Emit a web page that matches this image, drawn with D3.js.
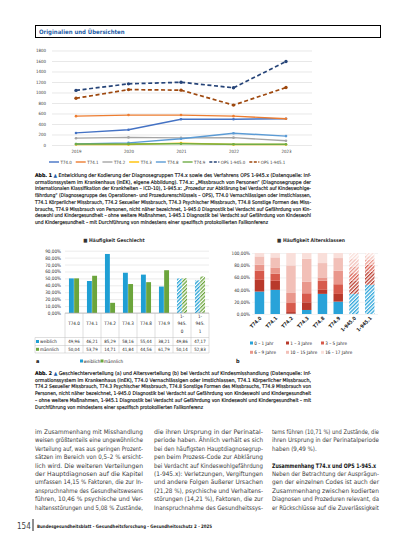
<!DOCTYPE html>
<meta charset="utf-8">
<title>Kodierung T74.x und OPS 1-945.x</title>
<style>
    body { margin: 0; background: #fff; }
    svg { display: block; }
</style>
<body>
<script src="https://cdn.jsdelivr.net/npm/d3@7"></script>
<script>
    // Abb. 1 - Fallzahlen je Jahr
    var years = ["2019", "2020", "2021", "2022", "2023"];
    var lineNames = ["T74.0", "T74.1", "T74.2", "T74.3", "T74.8", "T74.9", "OPS 1-945.0", "OPS 1-945.1"];
    var lineColors = ["#4472c4", "#ed7d31", "#a5a5a5", "#ffc000", "#5b9bd5", "#70ad47", "#264478", "#9e480e"];
    var t740 = [230, 290, 490, 490, 500];
    var t741 = [550, 570, 570, 550, 500];
    var t742 = [130, 145, 135, 140, 80];
    var t743 = [10, 10, 35, 10, 10];
    var t748 = [20, 40, 120, 225, 170];
    var t749 = [20, 20, 25, 15, 15];
    var ops0 = [1040, 1165, 1195, 1090, 1590];
    var ops1 = [890, 1055, 1045, 760, 1095];
    var lineValues = [t740, t741, t742, t743, t748, t749, ops0, ops1];

    // Abb. 2a - Geschlecht (%)
    var cats = ["T74.0", "T74.1", "T74.2", "T74.3", "T74.8", "T74.9", "1-945.0", "1-945.1"];
    var sexes = ["weiblich", "männlich"];
    var sexColors = ["#1f9fd4", "#6ca53c"];
    var weiblich = [49.96, 46.21, 85.29, 58.16, 55.44, 38.21, 49.86, 47.17];
    var maennlich = [50.04, 53.79, 14.71, 41.84, 44.56, 61.79, 50.14, 52.83];

    // Abb. 2b - Altersklassen (%)
    var ageClasses = ["0 – 1 Jahr", "1 – 3 Jahre", "3 – 5 Jahre", "6 – 9 Jahre", "10 – 15 Jahre", "16 – 17 Jahre"];
    var ageColors = ["#29a3d9", "#b8392b", "#d75a4c", "#e9978c", "#f2c0b8", "#f9dfda"];
    var age0_1 = [36.8, 39.6, 0.5, 6.6, 33.0, 20.3, 33.0, 47.8];
    var age1_3 = [19.2, 14.8, 2.7, 12.6, 6.6, 12.6, 22.0, 22.0];
    var age3_5 = [14.8, 11.5, 14.8, 14.8, 14.8, 15.9, 12.0, 11.0];
    var age6_9 = [9.9, 10.4, 16.5, 19.2, 5.5, 22.0, 11.0, 8.0];
    var age10_15 = [13.7, 16.5, 45.2, 37.4, 23.6, 20.9, 12.0, 6.0];
    var age16_17 = [5.6, 7.2, 20.3, 9.4, 16.5, 8.3, 10.0, 5.2];
    var ageValues = [age0_1, age1_3, age3_5, age6_9, age10_15, age16_17];

    var FONT = '"DejaVu Sans Condensed", "Liberation Sans Narrow", "Liberation Sans", sans-serif';
    var de = d3.formatLocale({decimal: ",", thousands: ".", grouping: [3], currency: ["", " €"]});
    var pct = function(d) { return de.format(".2f")(d) + "%"; };

    var svg = d3.select("body").append("svg")
        .attr("width", 413)
        .attr("height", 550)
        .attr("font-family", FONT);

    // hatch patterns for the OPS bars
    var defs = svg.append("defs");
    function hatch(id, color) {
        var p = defs.append("pattern")
            .attr("id", id)
            .attr("patternUnits", "userSpaceOnUse")
            .attr("width", 2.6).attr("height", 2.6)
            .attr("patternTransform", "rotate(45)");
        p.append("rect").attr("width", 2.6).attr("height", 2.6).attr("fill", "#fff");
        p.append("rect").attr("width", 1.3).attr("height", 2.6).attr("fill", color);
        return "url(#" + id + ")";
    }

    function addText(x, y, str, opt) {
        opt = opt || {};
        var t = svg.append("text")
            .attr("x", x).attr("y", y)
            .attr("font-size", opt.size || 5.3)
            .attr("fill", opt.color || "#222")
            .attr("font-weight", opt.weight || "normal")
            .attr("text-anchor", opt.anchor || "start")
            .text(str);
        if (opt.width) t.attr("textLength", opt.width).attr("lengthAdjust", "spacingAndGlyphs");
        return t;
    }

    // ---------- header ----------
    svg.append("rect")
        .attr("x", 35.5).attr("y", 25.5).attr("width", 345).attr("height", 12)
        .attr("fill", "none").attr("stroke", "#000").attr("stroke-width", 1);
    addText(39, 33.8, "Originalien und Übersichten", {size: 6, weight: "bold", color: "#1f5ea8"});

    // ---------- Abb. 1 line chart ----------
    var xL = d3.scalePoint().domain(years).range([76, 286]);
    var yL = d3.scaleLinear().domain([0, 1800]).range([145, 50.5]);

    var gL = svg.append("g");
    gL.append("g")
        .attr("transform", "translate(52,0)")
        .call(d3.axisLeft(yL).tickValues(d3.range(0, 1801, 200)).tickSize(-260).tickPadding(6).tickFormat(d3.format("d")))
        .attr("font-family", FONT).attr("font-size", 4.4)
        .call(function(g) { g.select(".domain").remove(); })
        .call(function(g) { g.selectAll("line").attr("stroke", "#d9d9d9").attr("stroke-width", 0.6); })
        .call(function(g) { g.selectAll("text").attr("fill", "#404040"); });

    gL.append("g")
        .attr("transform", "translate(0,145)")
        .call(d3.axisBottom(xL).tickSize(0).tickPadding(4.5))
        .attr("font-family", FONT).attr("font-size", 4.4)
        .call(function(g) { g.select(".domain").remove(); })
        .call(function(g) { g.selectAll("text").attr("fill", "#404040"); });

    var line = d3.line()
        .x(function(d, i) { return xL(years[i]); })
        .y(function(d) { return yL(d); });

    lineValues.forEach(function(vals, k) {
        var dashed = lineNames[k].indexOf("OPS") === 0;
        gL.append("path")
            .attr("d", line(vals))
            .attr("fill", "none")
            .attr("stroke", lineColors[k])
            .attr("stroke-width", dashed ? 1.7 : 1.4)
            .attr("stroke-dasharray", dashed ? "4,2.6" : null);
        gL.append("g").selectAll("circle")
            .data(vals)
            .enter().append("circle")
            .attr("cx", function(d, i) { return xL(years[i]); })
            .attr("cy", function(d) { return yL(d); })
            .attr("r", dashed ? 1.7 : 1.3)
            .attr("fill", lineColors[k]);
    });

    // legend
    var lx = 49;
    lineNames.forEach(function(name, k) {
        gL.append("line")
            .attr("x1", lx).attr("x2", lx + 10).attr("y1", 162).attr("y2", 162)
            .attr("stroke", lineColors[k]).attr("stroke-width", 1.4)
            .attr("stroke-dasharray", name.indexOf("OPS") === 0 ? "3,1.5" : null);
        var t = gL.append("text")
            .attr("x", lx + 11.5).attr("y", 163.6)
            .attr("font-size", 4.4).attr("fill", "#404040")
            .text(name);
        lx += 11.5 + t.node().getComputedTextLength() + 4;
    });

    // ---------- Abb. 2a grouped bars with data table ----------
    var xA = d3.scaleBand().domain(cats).range([65, 209]).paddingInner(0.44).paddingOuter(0.22);
    var xSex = d3.scaleBand().domain(sexes).range([0, xA.bandwidth()]).paddingInner(0.06);
    var yA = d3.scaleLinear().domain([0, 90]).range([313, 250.7]);

    addText(114, 241.5, "■ Häufigkeit Geschlecht", {size: 5, weight: "bold", anchor: "middle", color: "#333"});

    var gA = svg.append("g");
    gA.append("g")
        .attr("transform", "translate(65,0)")
        .call(d3.axisLeft(yA).tickValues(d3.range(0, 91, 10)).tickSize(-144).tickPadding(4).tickFormat(pct))
        .attr("font-family", FONT).attr("font-size", 4.6)
        .call(function(g) { g.select(".domain").remove(); })
        .call(function(g) { g.selectAll("line").attr("stroke", "#d9d9d9").attr("stroke-width", 0.5); })
        .call(function(g) { g.selectAll("text").attr("fill", "#333"); });

    var sexData = [weiblich, maennlich];
    var hatchA = [hatch("hw", sexColors[0]), hatch("hm", sexColors[1])];
    sexData.forEach(function(vals, s) {
        gA.append("g").selectAll("rect")
            .data(vals)
            .enter().append("rect")
            .attr("x", function(d, i) { return xA(cats[i]) + xSex(sexes[s]); })
            .attr("width", xSex.bandwidth())
            .attr("y", function(d) { return yA(d); })
            .attr("height", function(d) { return yA(0) - yA(d); })
            .attr("fill", function(d, i) { return cats[i].indexOf("1-") === 0 ? hatchA[s] : sexColors[s]; });
    });

    // data table
    var tableStroke = "#bfbfbf";
    var rowTop = [313, 337.5, 345.5, 353];
    gA.append("line").attr("x1", 65).attr("x2", 209).attr("y1", 313).attr("y2", 313)
        .attr("stroke", "#a6a6a6").attr("stroke-width", 0.6);
    rowTop.slice(1).forEach(function(y) {
        gA.append("line").attr("x1", 35).attr("x2", 209).attr("y1", y).attr("y2", y)
            .attr("stroke", tableStroke).attr("stroke-width", 0.5);
    });
    d3.range(cats.length + 1).forEach(function(i) {
        var x = i < cats.length ? xA(cats[i]) - xA.step() * 0.22 : 209;
        gA.append("line").attr("x1", x).attr("x2", x).attr("y1", 313).attr("y2", 353)
            .attr("stroke", tableStroke).attr("stroke-width", 0.5);
    });
    gA.append("line").attr("x1", 35).attr("x2", 35).attr("y1", 337.5).attr("y2", 353)
        .attr("stroke", tableStroke).attr("stroke-width", 0.5);

    cats.forEach(function(c, i) {
        var cx = xA(c) + xA.bandwidth() / 2;
        var parts = c.length > 5 ? [c.slice(0, 2), c.slice(2, 6), c.slice(6)] : [c];
        var t = gA.append("text")
            .attr("text-anchor", "middle").attr("font-size", 4.6).attr("fill", "#222");
        parts.forEach(function(p, j) {
            t.append("tspan").attr("x", cx)
                .attr("y", parts.length > 1 ? 317.5 + j * 7.6 : 325)
                .text(p);
        });
        sexData.forEach(function(vals, s) {
            gA.append("text")
                .attr("x", cx).attr("y", 343.4 + s * 7.8)
                .attr("text-anchor", "middle").attr("font-size", 4.4).attr("fill", "#222")
                .text(de.format(".2f")(vals[i]));
        });
    });
    sexes.forEach(function(s, k) {
        gA.append("rect").attr("x", 36).attr("y", 340 + k * 7.8).attr("width", 3).attr("height", 3).attr("fill", sexColors[k]);
        gA.append("text").attr("x", 40).attr("y", 343.4 + k * 7.8)
            .attr("font-size", 4.6).attr("fill", "#222").text(s);
    });

    // legend a
    var legA = [80, 100.5];
    sexes.forEach(function(s, k) {
        gA.append("rect").attr("x", legA[k]).attr("y", 359.5).attr("width", 3).attr("height", 3).attr("fill", sexColors[k]);
        gA.append("text").attr("x", legA[k] + 3.6).attr("y", 362.8)
            .attr("font-size", 4.6).attr("fill", "#222").text(s);
    });
    addText(36, 363, "a", {size: 5.5, weight: "bold", color: "#111"});

    // ---------- Abb. 2b stacked bars ----------
    var xB = d3.scaleBand().domain(cats).range([251.6, 377.6]).paddingInner(0.4).paddingOuter(0.2);
    var yB = d3.scaleLinear().domain([0, 100]).range([314, 253]);

    addText(311, 241.5, "■ Häufigkeit Altersklassen", {size: 5, weight: "bold", anchor: "middle", color: "#333"});

    var gB = svg.append("g");
    gB.append("g")
        .attr("transform", "translate(252,0)")
        .call(d3.axisLeft(yB).tickValues(d3.range(0, 101, 20)).tickSize(-126).tickPadding(2).tickFormat(pct))
        .attr("font-family", FONT).attr("font-size", 4.6)
        .call(function(g) { g.select(".domain").remove(); })
        .call(function(g) { g.selectAll("line").attr("stroke", "#e4e4e4").attr("stroke-width", 0.5); })
        .call(function(g) { g.selectAll("text").attr("fill", "#333"); });

    var ageRows = cats.map(function(c, i) {
        var row = {cat: c};
        ageClasses.forEach(function(a, k) { row[a] = ageValues[k][i]; });
        return row;
    });
    var stack = d3.stack().keys(ageClasses)(ageRows);
    var hatchB = ageColors.map(function(c, k) { return hatch("ha" + k, c); });

    gB.append("g").selectAll("g")
        .data(stack)
        .enter().append("g")
        .each(function(layer, k) {
            d3.select(this).selectAll("rect")
                .data(layer)
                .enter().append("rect")
                .attr("x", function(d) { return xB(d.data.cat); })
                .attr("width", xB.bandwidth())
                .attr("y", function(d) { return yB(d[1]); })
                .attr("height", function(d) { return yB(d[0]) - yB(d[1]); })
                .attr("fill", function(d) { return d.data.cat.indexOf("1-") === 0 ? hatchB[k] : ageColors[k]; });
        });

    gB.append("g").selectAll("text")
        .data(cats)
        .enter().append("text")
        .attr("transform", function(d) { return "translate(" + (xB(d) + xB.bandwidth() / 2 + 2.5) + ",318.5) rotate(-45)"; })
        .attr("text-anchor", "end")
        .attr("font-size", 5)
        .attr("font-weight", "bold")
        .attr("fill", "#222")
        .text(function(d) { return d; });

    // legend b
    var legBx = [250, 286, 321];
    ageClasses.forEach(function(a, k) {
        var lx2 = legBx[k % 3], ly = 344.5 + Math.floor(k / 3) * 9.3;
        gB.append("rect").attr("x", lx2).attr("y", ly - 3).attr("width", 3).attr("height", 3).attr("fill", ageColors[k]);
        gB.append("text").attr("x", lx2 + 4.2).attr("y", ly)
            .attr("font-size", 4.6).attr("fill", "#222").text(a);
    });
    addText(236, 363, "b", {size: 5.5, weight: "bold", color: "#111"});

    // ---------- captions ----------
    var cap1 = [
        "Entwicklung der Kodierung der Diagnosegruppen T74.x sowie des Verfahrens OPS 1-945.x (Datenquelle: Inf-",
        "ormationssystem im Krankenhaus (InEK), eigene Abbildung). T74.x: „Missbrauch von Personen“ (Diagnosegruppe der",
        "Internationalen Klassifikation der Krankheiten – ICD-10), 1-945.x: „Prozedur zur Abklärung bei Verdacht auf Kindeswohlge-",
        "fährdung“ (Diagnosegruppe des Operationen- und Prozedurenschlüssels – OPS), T74.0 Vernachlässigen oder Imstichlassen,",
        "T74.1 Körperlicher Missbrauch, T74.2 Sexueller Missbrauch, T74.3 Psychischer Missbrauch, T74.8 Sonstige Formen des Miss-",
        "brauchs, T74.9 Missbrauch von Personen, nicht näher bezeichnet, 1-945.0 Diagnostik bei Verdacht auf Gefährdung von Kin-",
        "deswohl und Kindergesundheit – ohne weitere Maßnahmen, 1-945.1 Diagnostik bei Verdacht auf Gefährdung von Kindeswohl",
        "und Kindergesundheit – mit Durchführung von mindestens einer spezifisch protokollierten Fallkonferenz"
    ];
    var cap2 = [
        "Geschlechterverteilung (a) und Altersverteilung (b) bei Verdacht auf Kindesmisshandlung (Datenquelle: Inf-",
        "ormationssystem im Krankenhaus (InEK), T74.0 Vernachlässigen oder Imstichlassen, T74.1 Körperlicher Missbrauch,",
        "T74.2 Sexueller Missbrauch, T74.3 Psychischer Missbrauch, T74.8 Sonstige Formen des Missbrauchs, T74.9 Missbrauch von",
        "Personen, nicht näher bezeichnet, 1-945.0 Diagnostik bei Verdacht auf Gefährdung von Kindeswohl und Kindergesundheit",
        "– ohne weitere Maßnahmen, 1-945.1 Diagnostik bei Verdacht auf Gefährdung von Kindeswohl und Kindergesundheit – mit",
        "Durchführung von mindestens einer spezifisch protokollierten Fallkonferenz"
    ];

    function caption(lines, label, y0, lastWidth) {
        lines.forEach(function(l, i) {
            var t = svg.append("text")
                .attr("x", 35).attr("y", y0 + i * 6.7)
                .attr("font-size", 5.2).attr("fill", "#000")
                .attr("stroke", "#000").attr("stroke-width", 0.12)
                .attr("textLength", i === lines.length - 1 ? lastWidth : 276)
                .attr("lengthAdjust", "spacingAndGlyphs");
            if (i === 0) {
                t.append("tspan").attr("font-weight", "bold").text(label + " ");
                t.append("tspan").attr("fill", "#1f5ea8").attr("stroke", "none").text("▲ ");
            }
            t.append("tspan").text(l);
        });
    }
    caption(cap1, "Abb. 1", 177, 233);
    caption(cap2, "Abb. 2", 375, 168);

    // ---------- body text ----------
    var col1 = [
        "im Zusammenhang mit Misshandlung",
        "weisen größtenteils eine ungewöhnliche",
        "Verteilung auf, was aus geringen Prozent-",
        "sätzen im Bereich von 0,5–2 % ersicht-",
        "lich wird. Die weiteren Verteilungen",
        "der Hauptdiagnosen auf die Kapitel",
        "umfassen 14,15 % Faktoren, die zur In-",
        "anspruchnahme des Gesundheitswesens",
        "führen, 10,46 % psychische und Ver-",
        "haltensstörungen und 5,08 % Zustände,"
    ];
    var col2 = [
        "die ihren Ursprung in der Perinatal-",
        "periode haben. Ähnlich verhält es sich",
        "bei den häufigsten Hauptdiagnosegrup-",
        "pen beim Prozess-Code zur Abklärung",
        "bei Verdacht auf Kindeswohlgefährdung",
        "(1-945.x): Verletzungen, Vergiftungen",
        "und andere Folgen äußerer Ursachen",
        "(21,28 %), psychische und Verhaltens-",
        "störungen (14,21 %), Faktoren, die zur",
        "Inanspruchnahme des Gesundheitssys-"
    ];
    var col3 = [
        "tems führen (10,71 %) und Zustände, die",
        "ihren Ursprung in der Perinatalperiode",
        "haben (9,49 %).",
        "",
        "Zusammenhang T74.x und OPS 1-945.x",
        "Neben der Betrachtung der Ausprägun-",
        "gen der einzelnen Codes ist auch der",
        "Zusammenhang zwischen kodierten",
        "Diagnosen und Prozeduren relevant, da",
        "er Rückschlüsse auf die Zuverlässigkeit"
    ];
    function column(lines, x, w) {
        lines.forEach(function(l, i) {
            if (!l) return;
            var natural = (l === "haben (9,49 %).");
            var head = (l.indexOf("Zusammenhang T74") === 0);
            addText(x, 434 + i * 8.4, l, {
                size: 6.2, color: head ? "#111" : "#3a3a3a",
                weight: head ? "bold" : "normal",
                width: natural ? null : (head ? 104 : w)
            });
        });
    }
    column(col1, 35, 108);
    column(col2, 154, 109);
    column(col3, 272, 107);

    // ---------- footer ----------
    addText(17, 528.5, "154", {size: 8, color: "#444"});
    svg.append("line").attr("x1", 33).attr("x2", 33).attr("y1", 519).attr("y2", 531)
        .attr("stroke", "#222").attr("stroke-width", 1);
    addText(37, 527.5, "Bundesgesundheitsblatt - Gesundheitsforschung - Gesundheitsschutz 2 · 2025",
        {size: 4.6, weight: "bold", color: "#222", width: 175});
</script>
</body>
